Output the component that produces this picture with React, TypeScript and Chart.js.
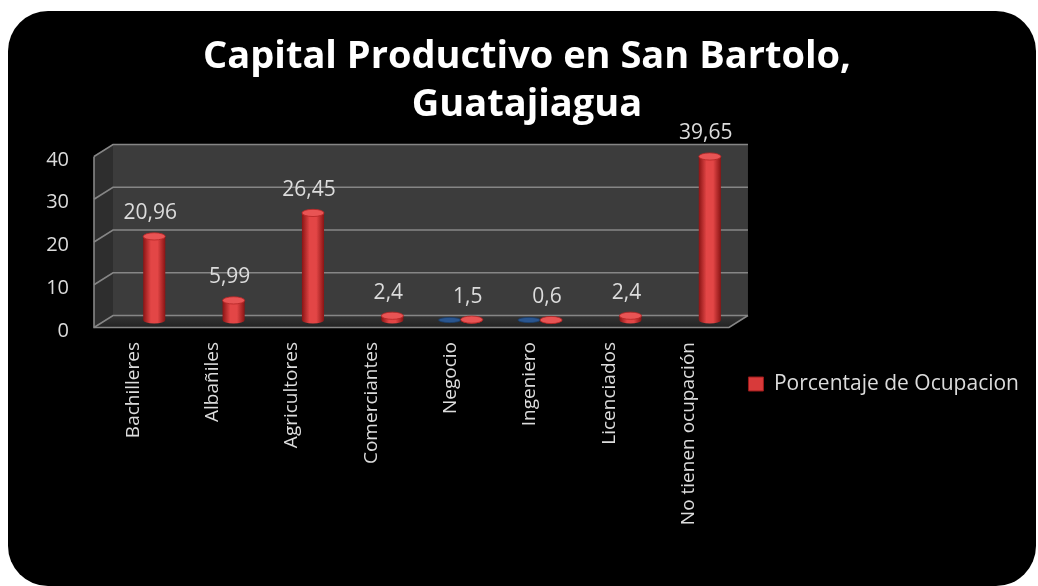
import React, { useEffect, useRef } from "react";
import { Chart, registerables } from "chart.js";

Chart.register(...registerables);

const categories = [
  "Bachilleres",
  "Albañiles",
  "Agricultores",
  "Comerciantes",
  "Negocio",
  "Ingeniero",
  "Licenciados",
  "No tienen ocupación",
];
const porcentaje = [20.96, 5.99, 26.45, 2.4, 1.5, 0.6, 2.4, 39.65];
const serieAzul = [null, null, null, null, 0, 0, null, null];
const seriesLabel = "Porcentaje de Ocupacion";
const titleLines = ["Capital Productivo en San Bartolo,", "Guatajiagua"];
const yMin = 0;
const yMax = 40;
const yStep = 10;

const FONT = '"Open Sans", "Liberation Sans", sans-serif';
const TEXT = "#dcdcdc";

const BACK = { dx: 9.5, dy: -10.5 };
const FRONT = { dx: -9.5, dy: 1.5 };

const fmt = (v: number) => String(v).replace(".", ",");

const walls3d = {
  id: "walls3d",
  beforeDatasetsDraw(chart: any) {
    const { ctx, chartArea: a, scales } = chart;
    const ys = scales.y;
    const L = a.left;
    const R = a.right;
    const yb = (v: number) => ys.getPixelForValue(v) + BACK.dy;
    const yf = (v: number) => ys.getPixelForValue(v) + FRONT.dy;
    const top = ys.max;
    const bot = ys.min;
    ctx.save();
    // back wall
    ctx.fillStyle = "#3c3c3c";
    ctx.fillRect(L + BACK.dx, yb(top), R - L, yb(bot) - yb(top));
    // left wall
    ctx.fillStyle = "#2e2e2e";
    ctx.beginPath();
    ctx.moveTo(L + FRONT.dx, yf(top));
    ctx.lineTo(L + BACK.dx, yb(top));
    ctx.lineTo(L + BACK.dx, yb(bot));
    ctx.lineTo(L + FRONT.dx, yf(bot));
    ctx.closePath();
    ctx.fill();
    // floor
    const g = ctx.createLinearGradient(0, yb(bot), 0, yf(bot));
    g.addColorStop(0, "#363636");
    g.addColorStop(1, "#222222");
    ctx.fillStyle = g;
    ctx.beginPath();
    ctx.moveTo(L + FRONT.dx, yf(bot));
    ctx.lineTo(L + BACK.dx, yb(bot));
    ctx.lineTo(R + BACK.dx, yb(bot));
    ctx.lineTo(R + FRONT.dx, yf(bot));
    ctx.closePath();
    ctx.fill();
    // grid lines
    ctx.strokeStyle = "#868686";
    ctx.lineWidth = 1.6;
    ys.ticks.forEach((t: any) => {
      const v = t.value;
      ctx.beginPath();
      ctx.moveTo(L + FRONT.dx, yf(v));
      ctx.lineTo(L + BACK.dx, yb(v));
      ctx.lineTo(R + BACK.dx, yb(v));
      ctx.stroke();
    });
    // outline of left wall and floor
    ctx.beginPath();
    ctx.moveTo(L + FRONT.dx, yf(top));
    ctx.lineTo(L + FRONT.dx, yf(bot));
    ctx.lineTo(R + FRONT.dx, yf(bot));
    ctx.lineTo(R + BACK.dx, yb(bot));
    ctx.stroke();
    // y tick labels (axis box kept for layout, labels drawn here)
    const to = ys.options.ticks;
    ctx.fillStyle = to.color;
    ctx.font = `${to.font.size}px ${FONT}`;
    ctx.textAlign = "right";
    ctx.textBaseline = "middle";
    ys.ticks.forEach((t: any) => {
      ctx.fillText(String(t.value), L - to.padding, ys.getPixelForValue(t.value) + to.labelOffset);
    });
    ctx.restore();
  },
};

const palettes = [
  { edge: "#16345c", mid: "#2f5f9a", top: "#2a5690", rim: "#1b3d6a" },
  { edge: "#8a1414", mid: "#e34646", top: "#e85454", rim: "#b42424" },
];

const cylinders = {
  id: "cylinders",
  beforeDatasetDraw() {
    return false;
  },
  afterDatasetsDraw(chart: any) {
    const { ctx, scales } = chart;
    const base = scales.y.getPixelForValue(0) - 6;
    chart.data.datasets.forEach((ds: any, di: number) => {
      const meta = chart.getDatasetMeta(di);
      const pal = palettes[di];
      meta.data.forEach((el: any, i: number) => {
        const v = ds.data[i];
        if (v === null || v === undefined) return;
        const { x, y, width } = el.getProps(["x", "y", "width"], true);
        const r = width / 2;
        const ry = di === 0 ? 2.6 : 3.6;
        const top = Math.min(y, base);
        ctx.save();
        const g = ctx.createLinearGradient(x - r, 0, x + r, 0);
        g.addColorStop(0, pal.edge);
        g.addColorStop(0.35, pal.mid);
        g.addColorStop(0.65, pal.mid);
        g.addColorStop(1, pal.edge);
        ctx.fillStyle = g;
        ctx.beginPath();
        ctx.moveTo(x - r, top);
        ctx.lineTo(x - r, base);
        ctx.ellipse(x, base, r, ry, 0, Math.PI, 0, true);
        ctx.lineTo(x + r, top);
        ctx.closePath();
        ctx.fill();
        ctx.beginPath();
        ctx.ellipse(x, top, r, ry, 0, 0, Math.PI * 2);
        ctx.fillStyle = pal.top;
        ctx.fill();
        ctx.lineWidth = 0.8;
        ctx.strokeStyle = pal.rim;
        ctx.stroke();
        if (di === 1) {
          ctx.fillStyle = TEXT;
          ctx.font = `21px ${FONT}`;
          ctx.textAlign = "center";
          ctx.textBaseline = "middle";
          ctx.fillText(fmt(v), x - 4, top - 23);
        }
        ctx.restore();
      });
    });
  },
};

export default function App() {
  const ref = useRef<HTMLCanvasElement | null>(null);
  useEffect(() => {
    if (!ref.current) return;
    const chart = new Chart(ref.current, {
      type: "bar",
      data: {
        labels: categories,
        datasets: [
          {
            label: "Serie 2",
            data: serieAzul as any,
            backgroundColor: "#2f5f9a",
            categoryPercentage: 0.557,
            barPercentage: 1,
          },
          {
            label: seriesLabel,
            data: porcentaje,
            backgroundColor: "#d83a3a",
            borderColor: "#9a1a1a",
            borderWidth: 1,
            categoryPercentage: 0.557,
            barPercentage: 1,
          },
        ],
      },
      options: {
        responsive: false,
        animation: false,
        devicePixelRatio: 1,
        layout: { padding: { left: 25, right: 9, top: 0, bottom: 0 } },
        plugins: {
          title: {
            display: true,
            text: titleLines,
            color: "#ffffff",
            font: { family: FONT, size: 38, weight: "bold", lineHeight: 1.263 },
            padding: { top: 33, bottom: 26 },
          },
          legend: {
            position: "right",
            align: "center",
            title: {
              display: true,
              text: " ",
              padding: { top: 170, bottom: 0 },
              font: { size: 12, lineHeight: 1 },
            },
            labels: {
              filter: (it: any) => it.datasetIndex === 1,
              color: TEXT,
              font: { family: FONT, size: 21 },
              boxWidth: 15,
              boxHeight: 14,
              padding: 10,
            },
          },
          tooltip: { enabled: false },
        },
        scales: {
          x: {
            grid: { display: false, drawTicks: false },
            border: { display: false },
            ticks: {
              color: TEXT,
              font: { family: FONT, size: 19 },
              minRotation: 90,
              maxRotation: 90,
              autoSkip: false,
              padding: 16,
              labelOffset: -10,
            },
            afterFit: (s: any) => {
              s.height = 260;
            },
          },
          y: {
            display: false,
            min: yMin,
            max: yMax,
            ticks: {
              stepSize: yStep,
              color: TEXT,
              font: { family: FONT, size: 20 },
              padding: 34.5,
              labelOffset: 5,
            },
            afterFit: (s: any) => {
              s.width = 78.5;
            },
          },
        },
      },
      plugins: [walls3d, cylinders],
    } as any);
    return () => chart.destroy();
  }, []);

  return (
    <div
      style={{
        position: "fixed",
        left: 0,
        top: 0,
        width: 1038,
        height: 586,
        background: "#ffffff",
        overflow: "hidden",
      }}
    >
      <div
        style={{
          position: "absolute",
          left: 8,
          top: 11,
          width: 1028,
          height: 575,
          background: "#000000",
          borderRadius: 40,
        }}
      />
      <canvas
        ref={ref}
        width={1038}
        height={586}
        style={{ position: "absolute", left: 0, top: 0, width: 1038, height: 586 }}
      />
    </div>
  );
}
